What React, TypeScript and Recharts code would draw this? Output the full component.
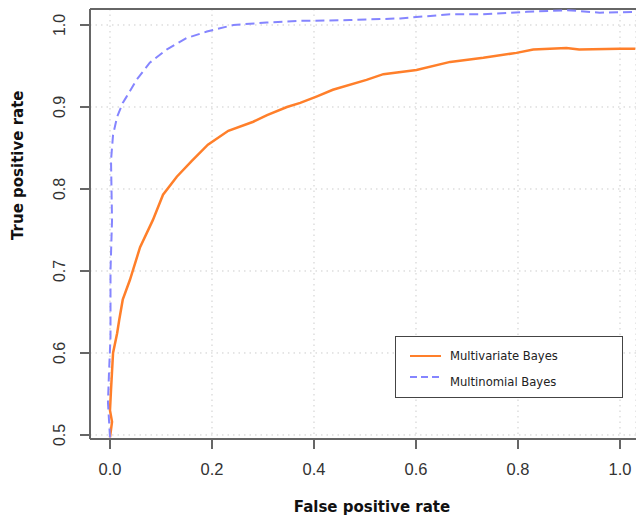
import { LineChart, Line, XAxis, YAxis, CartesianGrid, ReferenceLine } from 'recharts';

// ROC curve: false positive rate vs true positive rate
const multivariateFpr = [0, 0.004, 0.0, 0.002, 0.006, 0.014, 0.018, 0.025, 0.039, 0.059, 0.084, 0.104, 0.131, 0.16, 0.192, 0.232, 0.281, 0.308, 0.347, 0.373, 0.406, 0.437, 0.503, 0.536, 0.601, 0.667, 0.732, 0.797, 0.83, 0.895, 0.92, 1.0, 1.03];
const multivariateTpr = [0.497, 0.516, 0.53, 0.555, 0.6, 0.624, 0.64, 0.665, 0.689, 0.729, 0.762, 0.793, 0.815, 0.834, 0.854, 0.871, 0.882, 0.89, 0.9, 0.905, 0.913, 0.921, 0.933, 0.94, 0.945, 0.955, 0.96, 0.966, 0.97, 0.972, 0.97, 0.971, 0.971];

const multinomialFpr = [0.0, -0.004, -0.002, 0.001, 0.001, 0.004, 0.002, 0.006, 0.014, 0.025, 0.032, 0.052, 0.078, 0.111, 0.15, 0.19, 0.242, 0.307, 0.373, 0.47, 0.569, 0.667, 0.73, 0.817, 0.895, 0.92, 0.96, 1.03];
const multinomialTpr = [0.497, 0.54, 0.575, 0.62, 0.7, 0.762, 0.835, 0.866, 0.888, 0.905, 0.912, 0.933, 0.954, 0.97, 0.984, 0.992, 1.0, 1.003, 1.005, 1.006, 1.008, 1.013, 1.013, 1.016, 1.018, 1.017, 1.015, 1.016];

const xTicks = [0, 0.2, 0.4, 0.6, 0.8, 1.0];
const yTicks = [0.5, 0.6, 0.7, 0.8, 0.9, 1.0];

const multivariate = multivariateFpr.map((fpr, i) => ({ fpr, tpr: multivariateTpr[i] }));
const multinomial = multinomialFpr.map((fpr, i) => ({ fpr, tpr: multinomialTpr[i] }));

const X_DOMAIN = [-0.0392, 1.0314];
const Y_DOMAIN = [0.4951, 1.0195];

const ORANGE = '#ff7f2a';
const BLUE = '#8585ff';
const AXIS = '#666';

const series = [
  { name: 'Multivariate Bayes', color: ORANGE, dash: undefined },
  { name: 'Multinomial Bayes', color: BLUE, dash: '7 4' },
];

const YTick = ({ y, payload }: any) => (
  <text
    x={60}
    y={y}
    transform={`rotate(-90 60 ${y})`}
    textAnchor="middle"
    dominantBaseline="central"
    fontSize={16}
    fill="#333"
    fontFamily="Liberation Sans"
  >
    {payload.value.toFixed(1)}
  </text>
);

const LegendBox = () => (
  <svg width={228} height={62} style={{ position: 'absolute', left: 395, top: 336 }}>
    <rect x={0.5} y={0.5} width={227} height={61} fill="#fff" stroke="#444" strokeWidth={1} />
    {series.map((s, i) => (
      <g key={s.name}>
        <line
          x1={15}
          x2={46}
          y1={i === 0 ? 20 : 41}
          y2={i === 0 ? 20 : 41}
          stroke={s.color}
          strokeWidth={2}
          strokeDasharray={s.dash}
        />
        <text x={55} y={i === 0 ? 20 : 46} fontSize={11.6} fill="#222" fontFamily="DejaVu Sans" dominantBaseline="central">
          {s.name}
        </text>
      </g>
    ))}
  </svg>
);

export default function App() {
  return (
    <div style={{ position: 'absolute', left: 0, top: 0, width: 636, height: 516, background: '#fff' }}>
      <LineChart width={636} height={516} margin={{ top: 9, right: 0, bottom: 0, left: 0 }}>
        <CartesianGrid stroke="#ccc" strokeDasharray="1.5 4" />
        <XAxis
          type="number"
          dataKey="fpr"
          domain={X_DOMAIN}
          ticks={xTicks}
          allowDataOverflow
          height={77}
          stroke={AXIS}
          strokeWidth={2}
          tickSize={10}
          tickMargin={14}
          tickFormatter={(v: number) => v.toFixed(1)}
          tick={{ fontSize: 16.5, fill: '#333', fontFamily: 'Liberation Sans' }}
          label={{
            value: 'False positive rate',
            position: 'insideBottom',
            offset: 4,
            dx: 9,
            fontSize: 15,
            fontWeight: 'bold',
            fill: '#111',
            fontFamily: 'DejaVu Sans',
          }}
        />
        <YAxis
          type="number"
          domain={Y_DOMAIN}
          ticks={yTicks}
          allowDataOverflow
          width={90}
          stroke={AXIS}
          strokeWidth={2}
          tickSize={10}
          tick={<YTick />}
          label={{
            value: 'True positive rate',
            angle: -90,
            position: 'insideLeft',
            offset: 18,
            dy: 16,
            fontSize: 15,
            fontWeight: 'bold',
            fill: '#111',
            fontFamily: 'DejaVu Sans',
          }}
        />
        <ReferenceLine y={Y_DOMAIN[1]} stroke={AXIS} strokeWidth={2} />
        <Line
          data={multivariate}
          dataKey="tpr"
          name={series[0].name}
          type="linear"
          stroke={ORANGE}
          strokeWidth={2.5}
          dot={false}
          isAnimationActive={false}
        />
        <Line
          data={multinomial}
          dataKey="tpr"
          name={series[1].name}
          type="linear"
          stroke={BLUE}
          strokeWidth={2}
          strokeDasharray="9 5"
          dot={false}
          isAnimationActive={false}
        />
      </LineChart>
      <LegendBox />
    </div>
  );
}
